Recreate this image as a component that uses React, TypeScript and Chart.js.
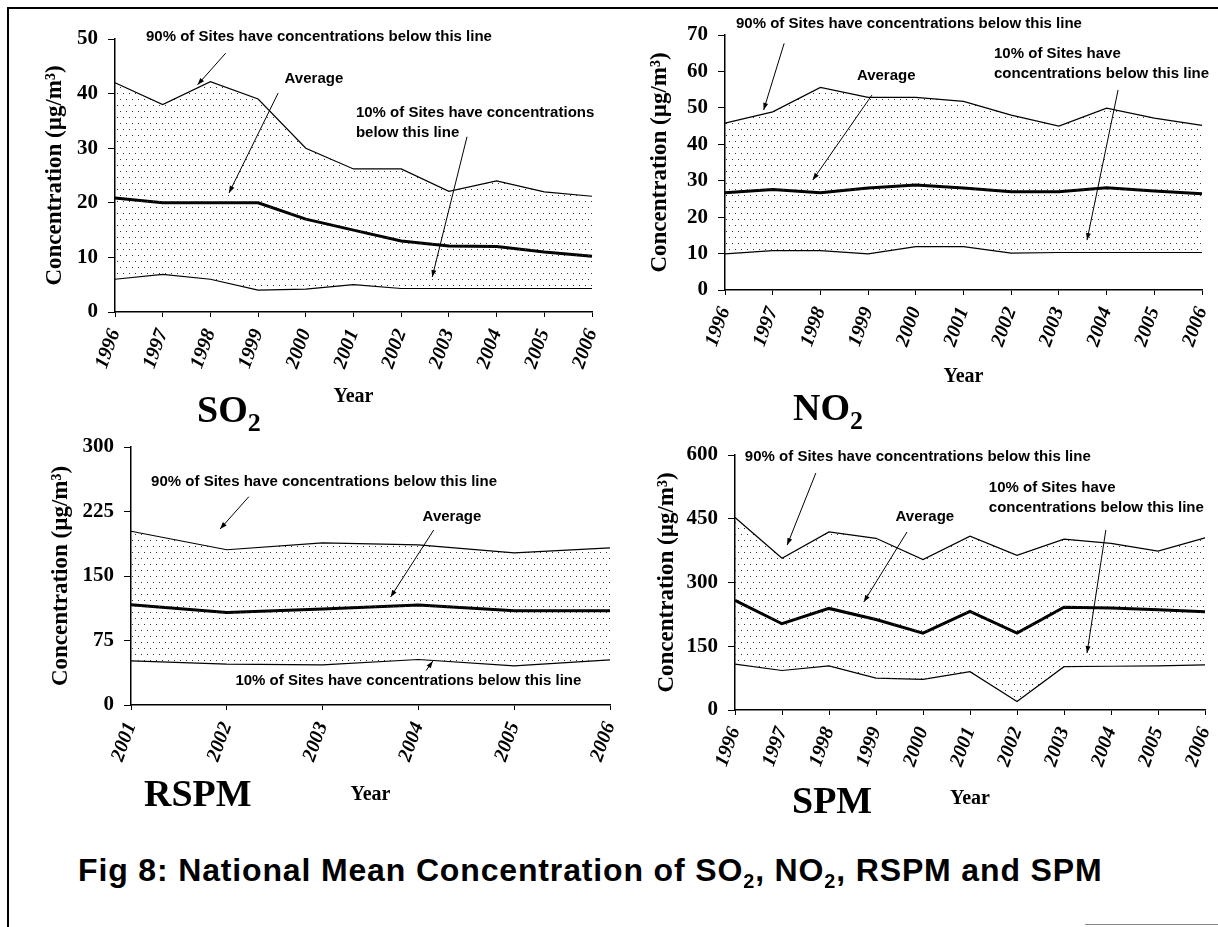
import React, { useEffect, useRef } from 'react';
import { Chart, registerables } from 'chart.js';

Chart.register(...registerables);

const SERIF = '"Liberation Serif", "Times New Roman", serif';
const SANS = '"Liberation Sans", Arial, sans-serif';

// ---------- data ----------
const YEARS_96_06 = ['1996', '1997', '1998', '1999', '2000', '2001', '2002', '2003', '2004', '2005', '2006'];
const YEARS_01_06 = ['2001', '2002', '2003', '2004', '2005', '2006'];

const SO2_P90 = [42, 38, 42.2, 39, 30, 26.2, 26.2, 22.1, 24, 22, 21.2];
const SO2_AVG = [20.9, 20, 20, 20, 17, 15, 13, 12.1, 12, 11, 10.2];
const SO2_P10 = [6, 6.9, 6, 4, 4.2, 5, 4.3, 4.3, 4.3, 4.3, 4.3];

const NO2_P90 = [45.8, 48.9, 55.6, 52.9, 52.9, 51.8, 48, 45, 49.9, 47.2, 45.2];
const NO2_AVG = [26.7, 27.6, 26.7, 28, 28.8, 28, 27, 27, 28.1, 27.2, 26.4];
const NO2_P10 = [9.9, 10.8, 10.8, 9.9, 11.9, 11.9, 10.1, 10.3, 10.3, 10.3, 10.3];

const RSPM_P90 = [202, 180.5, 188.6, 186.3, 177, 182.8];
const RSPM_AVG = [116.7, 107.7, 111.6, 116.3, 109.7, 109.7];
const RSPM_P10 = [51.3, 47.5, 46.7, 52.9, 45.5, 52.5];

const SPM_P90 = [453, 357, 419, 404, 354, 409, 364, 402, 392, 374, 405];
const SPM_AVG = [258, 203, 239, 213, 181, 232, 181, 242, 240, 236, 231];
const SPM_P10 = [108, 93, 104, 75, 72, 90, 20, 102, 103, 104, 106];

type Note = {
  lines: string[];
  x: number; // category index (fractional)
  y: number; // value
  align: CanvasTextAlign;
  from: [number, number];
  to: [number, number];
};

const P90_TEXT = '90% of Sites have concentrations below this line';

const SO2_NOTES: Note[] = [
  { lines: [P90_TEXT], x: 0.65, y: 50.4, align: 'left', from: [2.32, 47.4], to: [1.73, 41.6] },
  { lines: ['Average'], x: 4.17, y: 42.7, align: 'center', from: [3.42, 40.1], to: [2.39, 21.8] },
  { lines: ['10% of Sites have concentrations', 'below this line'], x: 5.05, y: 36.4, align: 'left', from: [7.38, 32.1], to: [6.65, 6.4] },
];
const NO2_NOTES: Note[] = [
  { lines: [P90_TEXT], x: 0.23, y: 73.0, align: 'left', from: [1.24, 67.7], to: [0.81, 49.4] },
  { lines: ['Average'], x: 3.38, y: 58.7, align: 'center', from: [3.08, 53.5], to: [1.84, 30.2] },
  { lines: ['10% of Sites have', 'concentrations below this line'], x: 5.64, y: 64.8, align: 'left', from: [8.24, 54.9], to: [7.59, 13.7] },
];
const RSPM_NOTES: Note[] = [
  { lines: [P90_TEXT], x: 0.21, y: 259.7, align: 'left', from: [1.23, 242.2], to: [0.93, 204.7] },
  { lines: ['Average'], x: 3.35, y: 219, align: 'center', from: [3.16, 203.5], to: [2.71, 125.6] },
  { lines: ['10% of Sites have concentrations below this line'], x: 1.09, y: 28.3, align: 'left', from: [3.08, 40], to: [3.15, 51] },
];
const SPM_NOTES: Note[] = [
  { lines: [P90_TEXT], x: 0.21, y: 595, align: 'left', from: [1.72, 557.6], to: [1.11, 388] },
  { lines: ['Average'], x: 4.04, y: 454, align: 'center', from: [3.66, 419], to: [2.74, 254] },
  { lines: ['10% of Sites have', 'concentrations below this line'], x: 5.4, y: 522, align: 'left', from: [7.89, 423.5], to: [7.49, 134] },
];

// ---------- plugin for annotations ----------
const notesPlugin = {
  id: 'notes',
  afterDatasetsDraw(chart: any, _args: any, opts: any) {
    const items: Note[] = (opts && opts.items) || [];
    const { ctx } = chart;
    const xs = chart.scales.x;
    const ys = chart.scales.y;
    ctx.save();
    ctx.fillStyle = '#000';
    ctx.strokeStyle = '#000';
    ctx.lineWidth = 1;
    ctx.font = `bold 15px ${SANS}`;
    ctx.textBaseline = 'middle';
    for (const n of items) {
      const px = xs.getPixelForValue(n.x);
      const py = ys.getPixelForValue(n.y);
      ctx.textAlign = n.align;
      n.lines.forEach((t, k) => ctx.fillText(t, px, py + k * 19.5));
      const x1 = xs.getPixelForValue(n.from[0]);
      const y1 = ys.getPixelForValue(n.from[1]);
      const x2 = xs.getPixelForValue(n.to[0]);
      const y2 = ys.getPixelForValue(n.to[1]);
      ctx.beginPath();
      ctx.moveTo(x1, y1);
      ctx.lineTo(x2, y2);
      ctx.stroke();
      const a = Math.atan2(y2 - y1, x2 - x1);
      const L = 7;
      const W = 2.5;
      ctx.beginPath();
      ctx.moveTo(x2, y2);
      ctx.lineTo(x2 - L * Math.cos(a) + W * Math.sin(a), y2 - L * Math.sin(a) - W * Math.cos(a));
      ctx.lineTo(x2 - L * Math.cos(a) - W * Math.sin(a), y2 - L * Math.sin(a) + W * Math.cos(a));
      ctx.closePath();
      ctx.fill();
    }
    ctx.restore();
  },
};

type PanelCfg = {
  labels: string[];
  p90: number[];
  avg: number[];
  p10: number[];
  max: number;
  step: number;
  notes: Note[];
  box: { L: number; T: number; W: number; H: number };
  area: { l: number; t: number; r: number; b: number };
  yTitlePad: number;
  xTitlePad: number;
};

function Panel({ cfg }: { cfg: PanelCfg }) {
  const ref = useRef<HTMLCanvasElement>(null);
  useEffect(() => {
    const canvas = ref.current!;
    const ctx = canvas.getContext('2d')!;
    const tile = document.createElement('canvas');
    tile.width = 6;
    tile.height = 12;
    const tctx = tile.getContext('2d')!;
    tctx.fillStyle = '#333';
    tctx.fillRect(1, 1, 1, 1);
    tctx.fillRect(4, 7, 1, 1);
    const pattern = ctx.createPattern(tile, 'repeat')!;
    const { box, area } = cfg;
    const chart = new Chart(canvas, {
      type: 'line',
      data: {
        labels: cfg.labels,
        datasets: [
          { label: '90%', data: cfg.p90, borderColor: '#000', borderWidth: 1.2, backgroundColor: pattern as any, fill: '+2', pointRadius: 0, tension: 0 },
          { label: 'Average', data: cfg.avg, borderColor: '#000', borderWidth: 3, fill: false, pointRadius: 0, tension: 0 },
          { label: '10%', data: cfg.p10, borderColor: '#000', borderWidth: 1.2, fill: false, pointRadius: 0, tension: 0 },
        ],
      },
      options: {
        animation: false,
        responsive: false,
        devicePixelRatio: 1,
        events: [],
        layout: { padding: { left: 0, top: area.t - box.T, right: box.L + box.W - area.r, bottom: 0 } },
        plugins: {
          legend: { display: false },
          tooltip: { enabled: false },
          // @ts-ignore
          notes: { items: cfg.notes },
        },
        scales: {
          x: {
            type: 'category',
            offset: false,
            ticks: {
              autoSkip: false,
              minRotation: 70,
              maxRotation: 70,
              color: '#000',
              padding: 9,
              font: { family: SERIF, size: 20, weight: 'bold', style: 'italic' },
            },
            grid: { display: true, drawOnChartArea: false, drawTicks: true, tickLength: 5, color: '#000' },
            border: { display: true, color: '#000', width: 1.5 },
            title: {
              display: true,
              text: 'Year',
              color: '#000',
              font: { family: SERIF, size: 20, weight: 'bold' },
              padding: { top: 0, bottom: cfg.xTitlePad },
            },
            afterFit: (s: any) => {
              s.height = box.T + box.H - area.b;
              s.paddingLeft = 0;
              s.paddingRight = 0;
            },
          },
          y: {
            min: 0,
            max: cfg.max,
            ticks: {
              stepSize: cfg.step,
              color: '#000',
              padding: 10,
              font: { family: SERIF, size: 21, weight: 'bold' },
            },
            grid: { display: true, drawOnChartArea: false, drawTicks: true, tickLength: 7, color: '#000' },
            border: { display: true, color: '#000', width: 1.5 },
            title: {
              display: true,
              text: 'Concentration (µg/m³)',
              color: '#000',
              font: { family: SERIF, size: 23, weight: 'bold' },
              padding: { top: cfg.yTitlePad, bottom: 0 },
            },
            afterFit: (s: any) => {
              s.width = area.l - box.L;
              s.paddingTop = 0;
              s.paddingBottom = 0;
            },
          },
        },
      } as any,
      plugins: [notesPlugin as any],
    });
    return () => chart.destroy();
  }, [cfg]);
  const { box } = cfg;
  return (
    <canvas
      ref={ref}
      width={box.W}
      height={box.H}
      style={{ position: 'absolute', left: box.L, top: box.T, width: box.W, height: box.H }}
    />
  );
}

const PANELS: PanelCfg[] = [
  {
    labels: YEARS_96_06, p90: SO2_P90, avg: SO2_AVG, p10: SO2_P10, max: 50, step: 10, notes: SO2_NOTES,
    box: { L: 8, T: 8, W: 610, H: 405 }, area: { l: 115, t: 39, r: 592, b: 312 }, yTitlePad: 33, xTitlePad: 4,
  },
  {
    labels: YEARS_96_06, p90: NO2_P90, avg: NO2_AVG, p10: NO2_P10, max: 70, step: 10, notes: NO2_NOTES,
    box: { L: 620, T: 8, W: 596, H: 385 }, area: { l: 725, t: 35, r: 1202, b: 290 }, yTitlePad: 26, xTitlePad: 4,
  },
  {
    labels: YEARS_01_06, p90: RSPM_P90, avg: RSPM_AVG, p10: RSPM_P10, max: 300, step: 75, notes: RSPM_NOTES,
    box: { L: 8, T: 425, W: 610, H: 386 }, area: { l: 131, t: 447, r: 610, b: 705 }, yTitlePad: 39, xTitlePad: 4,
  },
  {
    labels: YEARS_96_06, p90: SPM_P90, avg: SPM_AVG, p10: SPM_P10, max: 600, step: 150, notes: SPM_NOTES,
    box: { L: 620, T: 425, W: 596, H: 390 }, area: { l: 735, t: 455, r: 1205, b: 710 }, yTitlePad: 33, xTitlePad: 4,
  },
];

const labelStyle: React.CSSProperties = {
  position: 'absolute',
  fontFamily: SERIF,
  fontWeight: 'bold',
  fontSize: 38,
  lineHeight: '38px',
  color: '#000',
  whiteSpace: 'nowrap',
};
const subStyle: React.CSSProperties = { fontSize: 26, position: 'relative', top: 9 };
const titleSub: React.CSSProperties = { fontSize: 20, position: 'relative', top: 7 };

export default function App() {
  return (
    <div style={{ position: 'absolute', left: 0, top: 0, width: 1218, height: 927, overflow: 'hidden', background: '#fff' }}>
      {PANELS.map((p, i) => (
        <Panel key={i} cfg={p} />
      ))}
      <div style={{ ...labelStyle, left: 197, top: 390 }}>
        SO<span style={subStyle}>2</span>
      </div>
      <div style={{ ...labelStyle, left: 793, top: 388 }}>
        NO<span style={subStyle}>2</span>
      </div>
      <div style={{ ...labelStyle, left: 144, top: 774 }}>RSPM</div>
      <div style={{ ...labelStyle, left: 792, top: 781 }}>SPM</div>
      <div
        style={{
          position: 'absolute',
          left: 78,
          top: 854,
          fontFamily: SANS,
          fontWeight: 'bold',
          fontSize: 32,
          lineHeight: '32px',
          letterSpacing: 0.85,
          color: '#000',
          whiteSpace: 'nowrap',
        }}
      >
        Fig 8: National Mean Concentration of SO<span style={titleSub}>2</span>, NO<span style={titleSub}>2</span>, RSPM and SPM
      </div>
      <div style={{ position: 'absolute', left: 7, top: 7, width: 2, height: 920, background: '#000' }} />
      <div style={{ position: 'absolute', left: 7, top: 7, width: 1211, height: 2, background: '#000' }} />
      <div style={{ position: 'absolute', left: 1085, top: 924, width: 133, height: 1, background: '#888' }} />
    </div>
  );
}
